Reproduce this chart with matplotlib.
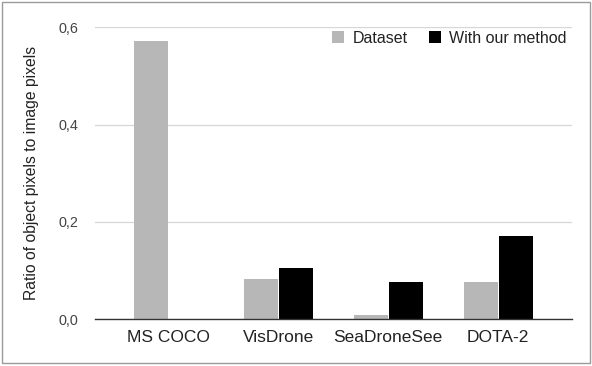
import numpy as np
import matplotlib.pyplot as plt
from matplotlib.patches import Rectangle

plt.rcParams['font.family'] = ['Liberation Sans', 'DejaVu Sans']

# data
categories = ['MS COCO', 'VisDrone', 'SeaDroneSee', 'DOTA-2']
dataset = [0.571, 0.083, 0.009, 0.077]
with_method = [0.0, 0.105, 0.077, 0.171]
yticks = [0.0, 0.2, 0.4, 0.6]
ytick_labels = ['0,0', '0,2', '0,4', '0,6']

fig = plt.figure(figsize=(5.92, 3.66), dpi=100)
ax = fig.add_axes([0.1605, 0.1284, 0.8055, 0.797])

x = np.arange(len(categories))
w = 0.31
ax.bar(x - w / 2 - 0.005, dataset, w, color='#b7b7b7', label='Dataset', zorder=3)
ax.bar(x + w / 2 + 0.005, with_method, w, color='#000000', label='With our method', zorder=3)

ax.set_xlim(-0.665, 3.67)
ax.set_ylim(0, 0.6)
ax.set_yticks(yticks)
ax.set_yticklabels(ytick_labels, fontsize=10.4, color='#444444')
ax.set_xticks(x)
ax.set_xticklabels(categories, fontsize=12.5, color='#222222')
ax.tick_params(axis='both', length=0)
ax.tick_params(axis='y', pad=12)
ax.tick_params(axis='x', pad=8)
ax.grid(axis='y', color='#d6d6d6', linewidth=0.9, zorder=0)
for s in ['top', 'right', 'left']:
    ax.spines[s].set_visible(False)
ax.spines['bottom'].set_color('#333333')
ax.spines['bottom'].set_linewidth(1.0)
ax.spines['bottom'].set_zorder(4)
ax.set_ylabel('Ratio of object pixels to image pixels', fontsize=11.3, color='#222222', labelpad=14)

ax.legend(loc='upper right', bbox_to_anchor=(0.982, 0.955), bbox_transform=fig.transFigure,
          ncol=2, frameon=False, fontsize=11.5, handlelength=0.75, handleheight=0.75,
          handletextpad=0.55, columnspacing=1.3, labelcolor='#222222')

fig.patches.append(Rectangle((2 / 592, 3 / 366), 588 / 592, 361 / 366, transform=fig.transFigure,
                             fill=False, edgecolor='#9a9a9a', linewidth=1.0))

fig.savefig('out.png', dpi=100)
